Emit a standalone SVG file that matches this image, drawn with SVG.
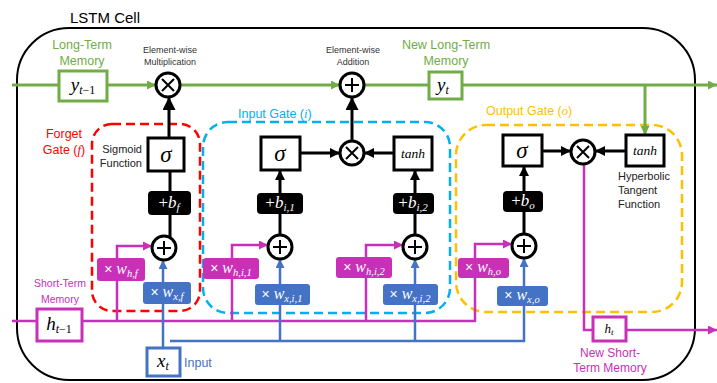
<svg xmlns="http://www.w3.org/2000/svg" width="717" height="383" viewBox="0 0 717 383">
<defs>
<style>
.lbl{font-family:"Liberation Sans",Arial,sans-serif}
.math{font-family:"Liberation Serif","DejaVu Serif",serif;font-style:italic}
.g{stroke:#70AD47;stroke-width:3;fill:none}
.k{stroke:#000;stroke-width:3;fill:none}
.m{stroke:#C830B8;stroke-width:2.5;fill:none}
.b{stroke:#4472C4;stroke-width:2.5;fill:none}
.gbox{fill:#fff;stroke:#70AD47;stroke-width:3}
.kbox{fill:#fff;stroke:#000;stroke-width:3}
.bias{fill:#000}
.mbox{fill:#C830B8}
.bbox{fill:#4472C4}
.op{fill:#fff;stroke:#000;stroke-width:3}
.sym{stroke:#000;stroke-width:2;fill:none}
.wt{fill:#fff;font-size:16px}
.gate{fill:none;stroke-width:2.5;stroke-dasharray:9 5}
</style>
<marker id="ak" viewBox="0 0 10 10" refX="10" refY="5" markerWidth="10" markerHeight="10" markerUnits="userSpaceOnUse" orient="auto"><path d="M0,0L10,5L0,10z" fill="#000"/></marker>
<marker id="akb" viewBox="0 0 10 10" refX="10" refY="5" markerWidth="13" markerHeight="13" markerUnits="userSpaceOnUse" orient="auto"><path d="M0,0L10,5L0,10z" fill="#000"/></marker>
<marker id="ag" viewBox="0 0 10 10" refX="10" refY="5" markerWidth="9" markerHeight="9" markerUnits="userSpaceOnUse" orient="auto"><path d="M0,0L10,5L0,10z" fill="#70AD47"/></marker>
<marker id="am" viewBox="0 0 10 10" refX="10" refY="5" markerWidth="9" markerHeight="9" markerUnits="userSpaceOnUse" orient="auto"><path d="M0,0L10,5L0,10z" fill="#C830B8"/></marker>
<marker id="ab" viewBox="0 0 10 10" refX="10" refY="5" markerWidth="9" markerHeight="9" markerUnits="userSpaceOnUse" orient="auto"><path d="M0,0L10,5L0,10z" fill="#4472C4"/></marker>
</defs>
<rect width="717" height="383" fill="#fff"/>

<g id="lstm-cell">
<rect x="17" y="28" width="678" height="352" rx="52" fill="none" stroke="#000" stroke-width="2"/>
<text class="lbl" x="70" y="23" font-size="15" fill="#000">LSTM Cell</text>
</g>

<g id="forget-gate">
<rect class="gate" x="92" y="124" width="108" height="187" rx="20" stroke="#FF0000"/>
<text class="lbl" font-size="12.5" fill="#FF0000" text-anchor="middle"><tspan x="64" y="138">Forget</tspan><tspan x="64" y="154">Gate (</tspan><tspan class="math">f</tspan><tspan>)</tspan></text>
</g>
<g id="input-gate">
<rect class="gate" x="203" y="122" width="247" height="191" rx="25" stroke="#00B0F0"/>
<text class="lbl" x="238" y="118" font-size="12.5" fill="#00B0F0">Input Gate (<tspan class="math">i</tspan>)</text>
</g>
<g id="output-gate">
<rect class="gate" x="456" y="125" width="226" height="187" rx="30" stroke="#FFC000"/>
<text class="lbl" x="486" y="115" font-size="12.5" fill="#FFC000">Output Gate (<tspan class="math">o</tspan>)</text>
</g>

<g id="connectors">
<path class="g" d="M12,85H59"/>
<path class="g" d="M107,85H156" marker-end="url(#ag)"/>
<path class="g" d="M180,85H340" marker-end="url(#ag)"/>
<path class="g" d="M364,85H429"/>
<path class="g" d="M462,85H717" marker-end="url(#ag)"/>
<path class="g" d="M645,85V135" marker-end="url(#ag)"/>
<path class="k" d="M170,237V215"/>
<path class="k" d="M170,191V171"/>
<path class="k" d="M169,138V97" stroke-width="4" marker-end="url(#akb)"/>
<path class="k" d="M280,235V214"/>
<path class="k" d="M280,193V170" marker-end="url(#ak)"/>
<path class="k" d="M415,235V214"/>
<path class="k" d="M415,193V170" marker-end="url(#ak)"/>
<path class="k" d="M300,153H340" marker-end="url(#ak)"/>
<path class="k" d="M394,153H364" marker-end="url(#ak)"/>
<path class="k" d="M352,141V97" stroke-width="4" marker-end="url(#akb)"/>
<path class="k" d="M524,234V212"/>
<path class="k" d="M524,191V166" marker-end="url(#ak)"/>
<path class="k" d="M542,151H571" marker-end="url(#ak)"/>
<path class="k" d="M626,151H595" marker-end="url(#ak)"/>
<path class="m" d="M12,321H37"/>
<path class="m" d="M82,321H475V244H512" marker-end="url(#am)"/>
<path class="m" d="M117,321V246H152" marker-end="url(#am)"/>
<path class="m" d="M232,321V245H268" marker-end="url(#am)"/>
<path class="m" d="M366,321V245H403" marker-end="url(#am)"/>
<path class="m" d="M584,164V330H593"/>
<path class="m" d="M626,330H717" marker-end="url(#am)"/>
<path class="b" d="M163,348V260" marker-end="url(#ab)"/>
<path class="b" d="M170,341H524V258" marker-end="url(#ab)"/>
<path class="b" d="M280,341V259" marker-end="url(#ab)"/>
<path class="b" d="M415,341V259" marker-end="url(#ab)"/>
</g>

<g id="y-prev">
<rect class="gbox" x="59" y="71" width="48" height="30"/>
<text class="math" x="83" y="91" font-size="19" text-anchor="middle">y<tspan font-size="12" dy="3">t</tspan><tspan font-size="12" font-style="normal">−1</tspan></text>
<text class="lbl" font-size="12.5" fill="#70AD47" text-anchor="middle"><tspan x="82" y="49">Long-Term</tspan><tspan x="82" y="65">Memory</tspan></text>
</g>
<g id="mult-forget">
<circle class="op" cx="168" cy="85" r="12"/>
<path class="sym" d="M162,79L174,91M174,79L162,91"/>
<text class="lbl" font-size="9" fill="#333" text-anchor="middle"><tspan x="170" y="53">Element-wise</tspan><tspan x="170" y="65">Multiplication</tspan></text>
</g>
<g id="add-long">
<circle class="op" cx="352" cy="85" r="12"/>
<path class="sym" d="M352,78V92M345,85H359" stroke-width="2.5"/>
<text class="lbl" font-size="9" fill="#333" text-anchor="middle"><tspan x="353" y="53">Element-wise</tspan><tspan x="353" y="65">Addition</tspan></text>
</g>
<g id="y-t">
<rect class="gbox" x="429" y="72" width="33" height="27"/>
<text class="math" x="443" y="91" font-size="19" text-anchor="middle">y<tspan font-size="12" dy="3">t</tspan></text>
<text class="lbl" font-size="12.5" fill="#70AD47" text-anchor="middle"><tspan x="446" y="49">New Long-Term</tspan><tspan x="446" y="65">Memory</tspan></text>
</g>

<g id="sigma-forget">
<rect class="kbox" x="148" y="138" width="36" height="33"/>
<text class="math" x="166" y="162" font-size="23" text-anchor="middle">σ</text>
<text class="lbl" font-size="11" fill="#222" text-anchor="end"><tspan x="142" y="153">Sigmoid</tspan><tspan x="142" y="167">Function</tspan></text>
</g>
<g id="bias-forget">
<rect class="bias" x="148" y="191" width="43" height="24" rx="4"/>
<text class="math" x="169" y="208" font-size="17" fill="#fff" text-anchor="middle"><tspan font-style="normal">+</tspan>b<tspan font-size="11" dy="3">f</tspan></text>
</g>
<g id="add-forget">
<circle class="op" cx="164" cy="248" r="12"/>
<path class="sym" d="M164,241V255M157,248H171" stroke-width="2.5"/>
</g>
<g id="wh-forget">
<rect class="mbox" x="97" y="258" width="48" height="23" rx="3"/>
<text class="wt" x="121" y="274" text-anchor="middle"><tspan class="lbl" font-size="14">× </tspan><tspan class="math">w</tspan><tspan class="math" font-size="10.5" dy="3">h,f</tspan></text>
</g>
<g id="wx-forget">
<rect class="bbox" x="143" y="282" width="48" height="22" rx="3"/>
<text class="wt" x="167" y="297" text-anchor="middle"><tspan class="lbl" font-size="14">× </tspan><tspan class="math">w</tspan><tspan class="math" font-size="10.5" dy="3">x,f</tspan></text>
</g>

<g id="sigma-input">
<rect class="kbox" x="261" y="137" width="39" height="33"/>
<text class="math" x="280" y="161" font-size="23" text-anchor="middle">σ</text>
</g>
<g id="mult-input">
<circle class="op" cx="352" cy="153" r="12"/>
<path class="sym" d="M346,147L358,159M358,147L346,159"/>
</g>
<g id="tanh-input">
<rect class="kbox" x="394" y="137" width="38" height="33"/>
<text class="math" x="413" y="158" font-size="13.5" text-anchor="middle">tanh</text>
</g>
<g id="bias-input1">
<rect class="bias" x="257" y="193" width="46" height="21" rx="4"/>
<text class="math" x="280" y="208" font-size="17" fill="#fff" text-anchor="middle"><tspan font-style="normal">+</tspan>b<tspan font-size="11" dy="3">i,1</tspan></text>
</g>
<g id="bias-input2">
<rect class="bias" x="393" y="193" width="41" height="21" rx="4"/>
<text class="math" x="413" y="208" font-size="17" fill="#fff" text-anchor="middle"><tspan font-style="normal">+</tspan>b<tspan font-size="11" dy="3">i,2</tspan></text>
</g>
<g id="add-input1">
<circle class="op" cx="280" cy="247" r="12"/>
<path class="sym" d="M280,240V254M273,247H287" stroke-width="2.5"/>
</g>
<g id="add-input2">
<circle class="op" cx="415" cy="247" r="12"/>
<path class="sym" d="M415,240V254M408,247H422" stroke-width="2.5"/>
</g>
<g id="wh-input1">
<rect class="mbox" x="203" y="258" width="56" height="21" rx="3"/>
<text class="wt" x="231" y="273" text-anchor="middle"><tspan class="lbl" font-size="14">× </tspan><tspan class="math">w</tspan><tspan class="math" font-size="10.5" dy="3">h,i,1</tspan></text>
</g>
<g id="wx-input1">
<rect class="bbox" x="255" y="284" width="55" height="21" rx="3"/>
<text class="wt" x="282" y="299" text-anchor="middle"><tspan class="lbl" font-size="14">× </tspan><tspan class="math">w</tspan><tspan class="math" font-size="10.5" dy="3">x,i,1</tspan></text>
</g>
<g id="wh-input2">
<rect class="mbox" x="336" y="257" width="56" height="21" rx="3"/>
<text class="wt" x="364" y="272" text-anchor="middle"><tspan class="lbl" font-size="14">× </tspan><tspan class="math">w</tspan><tspan class="math" font-size="10.5" dy="3">h,i,2</tspan></text>
</g>
<g id="wx-input2">
<rect class="bbox" x="383" y="284" width="55" height="21" rx="3"/>
<text class="wt" x="410" y="299" text-anchor="middle"><tspan class="lbl" font-size="14">× </tspan><tspan class="math">w</tspan><tspan class="math" font-size="10.5" dy="3">x,i,2</tspan></text>
</g>

<g id="sigma-output">
<rect class="kbox" x="503" y="135" width="39" height="31"/>
<text class="math" x="522" y="158" font-size="23" text-anchor="middle">σ</text>
</g>
<g id="mult-output">
<circle class="op" cx="583" cy="152" r="12"/>
<path class="sym" d="M577,146L589,158M589,146L577,158"/>
</g>
<g id="tanh-output">
<rect class="kbox" x="626" y="135" width="38" height="31"/>
<text class="math" x="645" y="155" font-size="13.5" text-anchor="middle">tanh</text>
<text class="lbl" font-size="11" fill="#222"><tspan x="618" y="180">Hyperbolic</tspan><tspan x="618" y="194">Tangent</tspan><tspan x="618" y="208">Function</tspan></text>
</g>
<g id="bias-output">
<rect class="bias" x="503" y="191" width="40" height="21" rx="4"/>
<text class="math" x="523" y="206" font-size="17" fill="#fff" text-anchor="middle"><tspan font-style="normal">+</tspan>b<tspan font-size="11" dy="3">o</tspan></text>
</g>
<g id="add-output">
<circle class="op" cx="524" cy="246" r="12"/>
<path class="sym" d="M524,239V253M517,246H531" stroke-width="2.5"/>
</g>
<g id="wh-output">
<rect class="mbox" x="458" y="258" width="51" height="20" rx="3"/>
<text class="wt" x="483" y="272" text-anchor="middle"><tspan class="lbl" font-size="14">× </tspan><tspan class="math">w</tspan><tspan class="math" font-size="10.5" dy="3">h,o</tspan></text>
</g>
<g id="wx-output">
<rect class="bbox" x="497" y="286" width="51" height="20" rx="3"/>
<text class="wt" x="522" y="300" text-anchor="middle"><tspan class="lbl" font-size="14">× </tspan><tspan class="math">w</tspan><tspan class="math" font-size="10.5" dy="3">x,o</tspan></text>
</g>

<g id="h-prev">
<rect x="37" y="309" width="45" height="32" fill="#fff" stroke="#C830B8" stroke-width="3"/>
<text class="math" x="59" y="330" font-size="19" text-anchor="middle">h<tspan font-size="12" dy="3">t</tspan><tspan font-size="12" font-style="normal">−1</tspan></text>
<text class="lbl" font-size="10.5" fill="#C830B8" text-anchor="middle"><tspan x="60" y="287">Short-Term</tspan><tspan x="60" y="303">Memory</tspan></text>
</g>
<g id="h-t">
<rect x="593" y="317" width="33" height="24" fill="#fff" stroke="#C830B8" stroke-width="3"/>
<text class="math" x="609" y="333" font-size="13" text-anchor="middle">h<tspan font-size="9" dy="2">t</tspan></text>
<text class="lbl" font-size="12" fill="#C830B8" text-anchor="middle"><tspan x="610" y="357">New Short-</tspan><tspan x="610" y="372">Term Memory</tspan></text>
</g>
<g id="x-t">
<rect x="147" y="348" width="33" height="28" fill="#fff" stroke="#4472C4" stroke-width="3"/>
<text class="math" x="163" y="367" font-size="19" text-anchor="middle">x<tspan font-size="12" dy="3">t</tspan></text>
<text class="lbl" x="184" y="367" font-size="12.5" fill="#4472C4">Input</text>
</g>
</svg>
